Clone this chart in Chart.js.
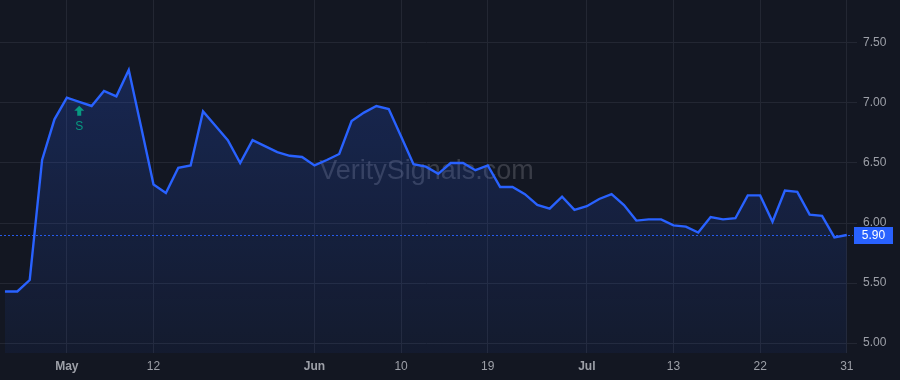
<!DOCTYPE html>
<html lang="en">
<head>
    <meta charset="UTF-8">
    <title>Price Chart</title>
    <style>
        body {
            margin: 0;
            background-color: #131722;
        }
        .chart-container {
            width: 900px;
            height: 380px;
            position: relative;
        }
    </style>
</head>
<body>
    <div class="chart-container">
        <canvas id="priceChart"></canvas>
    </div>

    <script src="https://cdn.jsdelivr.net/npm/chart.js"></script>
    <script>
        // Daily closes, one per trading session (late Apr - Jul 31)
        const prices = [
            5.43, 5.43, 5.525, 6.525, 6.864, 7.044, 7.01, 6.975, 7.10, 7.055,
            7.275, 6.80, 6.32, 6.25, 6.46, 6.48, 6.93, 6.81, 6.69, 6.50,
            6.69, 6.64, 6.59, 6.56, 6.55, 6.48, 6.525, 6.575, 6.85, 6.92,
            6.975, 6.95, 6.72, 6.49, 6.47, 6.41, 6.50, 6.50, 6.44, 6.48,
            6.30, 6.30, 6.24, 6.15, 6.12, 6.22, 6.11, 6.14, 6.20, 6.24,
            6.15, 6.02, 6.03, 6.03, 5.98, 5.97, 5.92, 6.05, 6.03, 6.04,
            6.23, 6.23, 6.01, 6.27, 6.26, 6.07, 6.06, 5.88, 5.90
        ];

        // x-axis tick positions (session index) and their labels
        const tickIdx = [5, 12, 25, 32, 39, 47, 54, 61, 68];
        const tickLabels = ['May', '12', 'Jun', '10', '19', 'Jul', '13', '22', '31'];
        const monthLabels = ['May', 'Jun', 'Jul'];

        const yTicks = [5.0, 5.5, 6.0, 6.5, 7.0, 7.5];

        // signal markers
        const signalIdx = [6];
        const signalText = ['S'];

        const FONT = "'Liberation Sans', Arial, sans-serif";
        const BLUE = '#2962ff';
        const GREEN = '#089981';
        const lastPrice = prices[prices.length - 1];

        const overlayPlugin = {
            id: 'overlay',
            beforeDatasetsDraw(chart) {
                const { ctx, chartArea } = chart;
                ctx.save();
                ctx.font = `27px ${FONT}`;
                ctx.fillStyle = 'rgba(178, 181, 190, 0.24)';
                ctx.textAlign = 'center';
                ctx.textBaseline = 'middle';
                ctx.fillText('VeritySignals.com', (chartArea.left + chartArea.right) / 2, chartArea.top + 172);
                ctx.restore();
            },
            afterDatasetsDraw(chart) {
                const { ctx, chartArea, scales } = chart;
                const x = scales.x, y = scales.y;

                // last price dashed line
                const py = Math.round(y.getPixelForValue(lastPrice)) + 0.5;
                ctx.save();
                ctx.strokeStyle = 'rgba(41, 98, 255, 0.9)';
                ctx.lineWidth = 1;
                ctx.setLineDash([2, 2]);
                ctx.beginPath();
                ctx.moveTo(chartArea.left, py);
                ctx.lineTo(chartArea.right, py);
                ctx.stroke();
                ctx.setLineDash([]);

                // price tag
                ctx.fillStyle = BLUE;
                ctx.fillRect(chartArea.right + 1, py - 8.5, 39, 17);
                ctx.fillStyle = '#ffffff';
                ctx.font = `12px ${FONT}`;
                ctx.textAlign = 'center';
                ctx.textBaseline = 'middle';
                ctx.fillText(lastPrice.toFixed(2), chartArea.right + 20.5, py + 0.5);

                // signal markers
                signalIdx.forEach((idx, i) => {
                    const sx = x.getPixelForValue(idx);
                    const sy = y.getPixelForValue(prices[idx]);
                    const ay = sy + 4;
                    ctx.fillStyle = GREEN;
                    ctx.beginPath();
                    ctx.moveTo(sx, ay);
                    ctx.lineTo(sx + 5, ay + 5);
                    ctx.lineTo(sx + 2, ay + 5);
                    ctx.lineTo(sx + 2, ay + 10);
                    ctx.lineTo(sx - 2, ay + 10);
                    ctx.lineTo(sx - 2, ay + 5);
                    ctx.lineTo(sx - 5, ay + 5);
                    ctx.closePath();
                    ctx.fill();
                    ctx.font = `12px ${FONT}`;
                    ctx.textAlign = 'center';
                    ctx.textBaseline = 'middle';
                    ctx.fillText(signalText[i], sx, ay + 21);
                });
                ctx.restore();
            }
        };

        new Chart(document.getElementById('priceChart'), {
            type: 'line',
            data: {
                datasets: [{
                    data: prices.map((v, i) => ({ x: i, y: v })),
                    borderColor: BLUE,
                    borderWidth: 2.4,
                    pointRadius: 0,
                    tension: 0,
                    fill: 'start',
                    backgroundColor: (context) => {
                        const area = context.chart.chartArea;
                        if (!area) return 'rgba(41, 98, 255, 0.12)';
                        const g = context.chart.ctx.createLinearGradient(0, area.top, 0, area.bottom);
                        g.addColorStop(0, 'rgba(41, 98, 255, 0.25)');
                        g.addColorStop(1, 'rgba(41, 98, 255, 0.06)');
                        return g;
                    }
                }]
            },
            options: {
                responsive: true,
                maintainAspectRatio: false,
                animation: false,
                layout: { padding: 0 },
                plugins: {
                    legend: { display: false },
                    tooltip: { enabled: false }
                },
                scales: {
                    x: {
                        type: 'linear',
                        min: -0.4,
                        max: 68.5,
                        afterBuildTicks: (scale) => {
                            scale.ticks = tickIdx.map(v => ({ value: v }));
                        },
                        afterFit: (scale) => {
                            scale.height = 27;
                            scale.paddingLeft = 0;
                            scale.paddingRight = 0;
                        },
                        grid: { color: '#232733', drawTicks: false },
                        border: { display: false },
                        ticks: {
                            color: '#9da0a8',
                            padding: 6,
                            maxRotation: 0,
                            autoSkip: false,
                            font: (c) => ({
                                family: FONT,
                                size: 12,
                                weight: c.tick && monthLabels.includes(tickLabels[tickIdx.indexOf(c.tick.value)]) ? 'bold' : 'normal'
                            }),
                            callback: (v) => tickLabels[tickIdx.indexOf(v)] ?? ''
                        }
                    },
                    y: {
                        position: 'right',
                        min: 4.917,
                        max: 7.858,
                        afterBuildTicks: (scale) => {
                            scale.ticks = yTicks.map(v => ({ value: v }));
                        },
                        afterFit: (scale) => {
                            scale.width = 47;
                            scale.paddingTop = 0;
                            scale.paddingBottom = 0;
                        },
                        grid: { color: '#232733', drawTicks: true, tickLength: 4 },
                        border: { display: false },
                        ticks: {
                            color: '#9da0a8',
                            padding: 6,
                            font: { family: FONT, size: 12 },
                            callback: (v) => v.toFixed(2)
                        }
                    }
                }
            },
            plugins: [overlayPlugin]
        });
    </script>
</body>
</html>
